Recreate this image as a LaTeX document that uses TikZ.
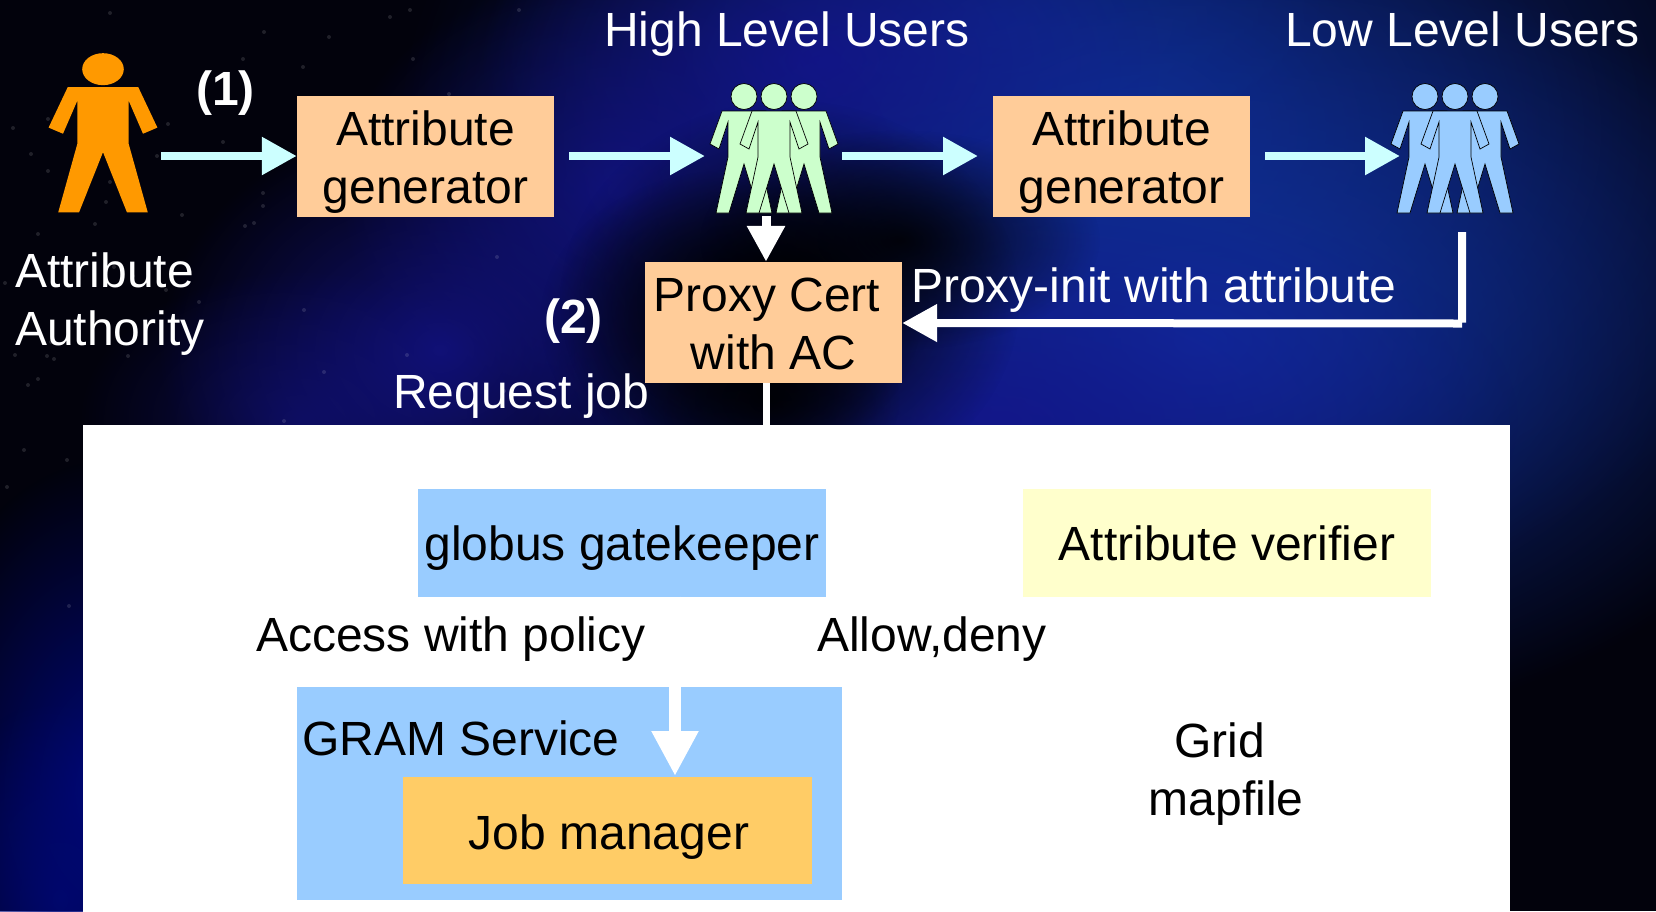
\documentclass[tikz,border=0pt]{standalone}
\usepackage{fontspec}
\setmainfont{Liberation Sans}
\usetikzlibrary{arrows.meta,fadings}

\definecolor{peach}{HTML}{FFCC99}
\definecolor{skyblue}{HTML}{99CCFF}
\definecolor{paleyellow}{HTML}{FFFFCC}
\definecolor{jobgold}{HTML}{FFCC66}
\definecolor{mintgreen}{HTML}{CCFFCC}
\definecolor{paleblue}{HTML}{99CCFF}
\definecolor{authorange}{HTML}{FF9900}
\definecolor{paleaqua}{HTML}{CCFFFF}
\definecolor{nightsky}{HTML}{02020C}
\definecolor{glowa}{HTML}{10309C}
\definecolor{glowb}{HTML}{14148E}
\definecolor{glowc}{HTML}{00087A}

\tikzfading[name=glow, inner color=transparent!0, outer color=transparent!100]

\tikzset{
  every node/.style={font=\fontsize{48}{58}\selectfont, inner sep=0pt},
  box/.style={align=center, text=black},
  genbox/.style={box, fill=peach, minimum width=257pt, minimum height=121pt, text height=104pt},
  caption/.style={anchor=base west, text=white, align=left},
  panellabel/.style={anchor=base west, text=black},
  stepnum/.style={anchor=base west, text=white, font=\fontsize{48}{58}\selectfont\bfseries},
  flow/.style={draw=paleaqua, line width=8.5pt, -{Triangle[length=35pt,width=36pt]}},
  back/.style={draw=white, line width=8pt, -{Triangle[length=35pt,width=36pt]}},
  pics/person/.style={code={
    \path[pic actions] (0,-14.5) ellipse [x radius=13, y radius=13];
    \path[pic actions] (-22,0) -- (22,0) -- (34,33) -- (25,38) -- (16,11) -- (16,46)
      -- (28,102) -- (15,102) -- (0,53) -- (-15,102) -- (-28,102) -- (-16,46)
      -- (-16,11) -- (-25,38) -- (-34,33) -- cycle;
  }},
}

\begin{document}
\begin{tikzpicture}[x=1pt, y=-1pt]
  \useasboundingbox (0,0) rectangle (1656,911);
  \fill[nightsky] (0,0) rectangle (1656,911);

  % sky
  \foreach \gx/\gy/\grx/\gry/\gcol/\gop in {
      1120/130/720/500/glowa/.85, 1200/340/640/400/glowa/1, 1000/20/340/190/glowa/.5,
      820/60/340/220/glowb/.8, 620/190/280/220/glowb/.75, 440/350/280/230/glowb/.8,
      1000/420/520/240/glowb/.8, 300/420/220/150/glowb/.5,
      110/790/210/330/glowc/1, 60/900/140/200/glowc/.7,
      730/320/190/150/black/.95, 790/300/230/200/black/1, 900/240/200/110/black/.85, 770/400/130/90/black/.8}
    \fill[\gcol, opacity=\gop, path fading=glow] (\gx,\gy) ellipse [x radius=\grx, y radius=\gry];
  \pgfmathsetseed{11}
  \foreach \s in {1,...,90}{
    \pgfmathsetmacro{\sx}{random(5,520)}
    \pgfmathsetmacro{\sy}{random(5,640)}
    \fill[white, opacity=.12] (\sx,\sy) circle (2pt);
  }

  % the white panel
  \node[fill=white, minimum width=1427pt, minimum height=490pt] (panel) at (796.5,670) {};

  % named ends of the arrows
  \coordinate (authout) at (161,156);
  \coordinate (highin) at (705,156);
  \coordinate (highout) at (842,156);
  \coordinate (gen2in) at (978,156);
  \coordinate (lowin) at (1400,156);
  \coordinate (highdown) at (766,216);
  \coordinate (lowdown) at (1462,232);

  % top row
  \node[genbox] (gen1) at (425.5,156.5) {Attribute\\generator};
  \node[genbox] (gen2) at (1121.5,156.5) {Attribute\\generator};
  \node[box, fill=peach, minimum width=257pt, minimum height=121pt, text height=94pt] (proxy) at (773.5,322.5)
    {Proxy Cert\hspace*{13pt}\\with AC};

  % people
  \pic[fill=authorange, xscale=1.6, yscale=1.23] (authority) at (103,87) {person};
  \foreach \px in {744,804,774}
    \pic[fill=mintgreen, draw=black, line width=.7pt] at (\px,111) {person};
  \foreach \px in {1425,1485,1455}
    \pic[fill=paleblue, draw=black, line width=.7pt] at (\px,111) {person};

  % inside the panel
  \node[box, fill=skyblue, minimum width=408pt, minimum height=108pt, text height=46pt] (gatekeeper) at (622,542.5)
    {globus gatekeeper};
  \node[box, fill=paleyellow, minimum width=408pt, minimum height=108pt, text height=37pt] (verifier) at (1227,542.5)
    {Attribute verifier};
  \node[fill=skyblue, minimum width=545pt, minimum height=213pt] (gram) at (569.5,793) {};
  \node[box, fill=jobgold, minimum width=409pt, minimum height=107pt, text height=47pt] (job) at (607.5,830.5)
    {\hspace*{3pt}Job manager};
  \coordinate (jobin) at (675,776);

  % texts
  \node[caption] (highusers) at (604,46) {High Level Users};
  \node[caption] (lowusers) at (1285,46) {Low Level Users};
  \node[caption] (authname) at (15,345) {Attribute\\Authority};
  \node[stepnum] (one) at (196,105) {(1)};
  \node[stepnum] (two) at (544,333) {(2)};
  \node[caption] (request) at (393,408) {Request job};
  \node[caption] (proxyinit) at (911,302) {Proxy-init with attribute};
  \node[panellabel] (access) at (256,651) {Access with policy};
  \node[panellabel] (allow) at (817,651) {Allow,deny};
  \node[panellabel] (gramname) at (302,755) {GRAM Service};
  \node[box, anchor=base] (mapfile) at (1226,815) {Grid\hspace*{13pt}\\mapfile};

  % arrows
  \draw[flow] (authout) -- (gen1.west |- authout);
  \draw[flow] (gen1.east |- authout) ++(15,0) coordinate (genout) -- (highin);
  \draw[flow] (highout) -- (gen2in);
  \draw[flow] (gen2.east |- highout) ++(15,0) coordinate (gen2out) -- (lowin);
  \draw[draw=white, line width=9pt, -{Triangle[length=36pt,width=36pt]}] (highdown) -- (highdown |- proxy.north);
  \draw[back] (lowdown) -- (lowdown |- proxy.east) ++(0,1) -- (proxy.east |- 0,323);
  \draw[draw=white, line width=7pt] (highdown |- proxy.south) -- (highdown |- panel.north);
  \draw[draw=white, line width=12pt, -{Triangle[length=45pt,width=44pt]}] (jobin |- gatekeeper.south) -- (jobin);
\end{tikzpicture}
\end{document}
